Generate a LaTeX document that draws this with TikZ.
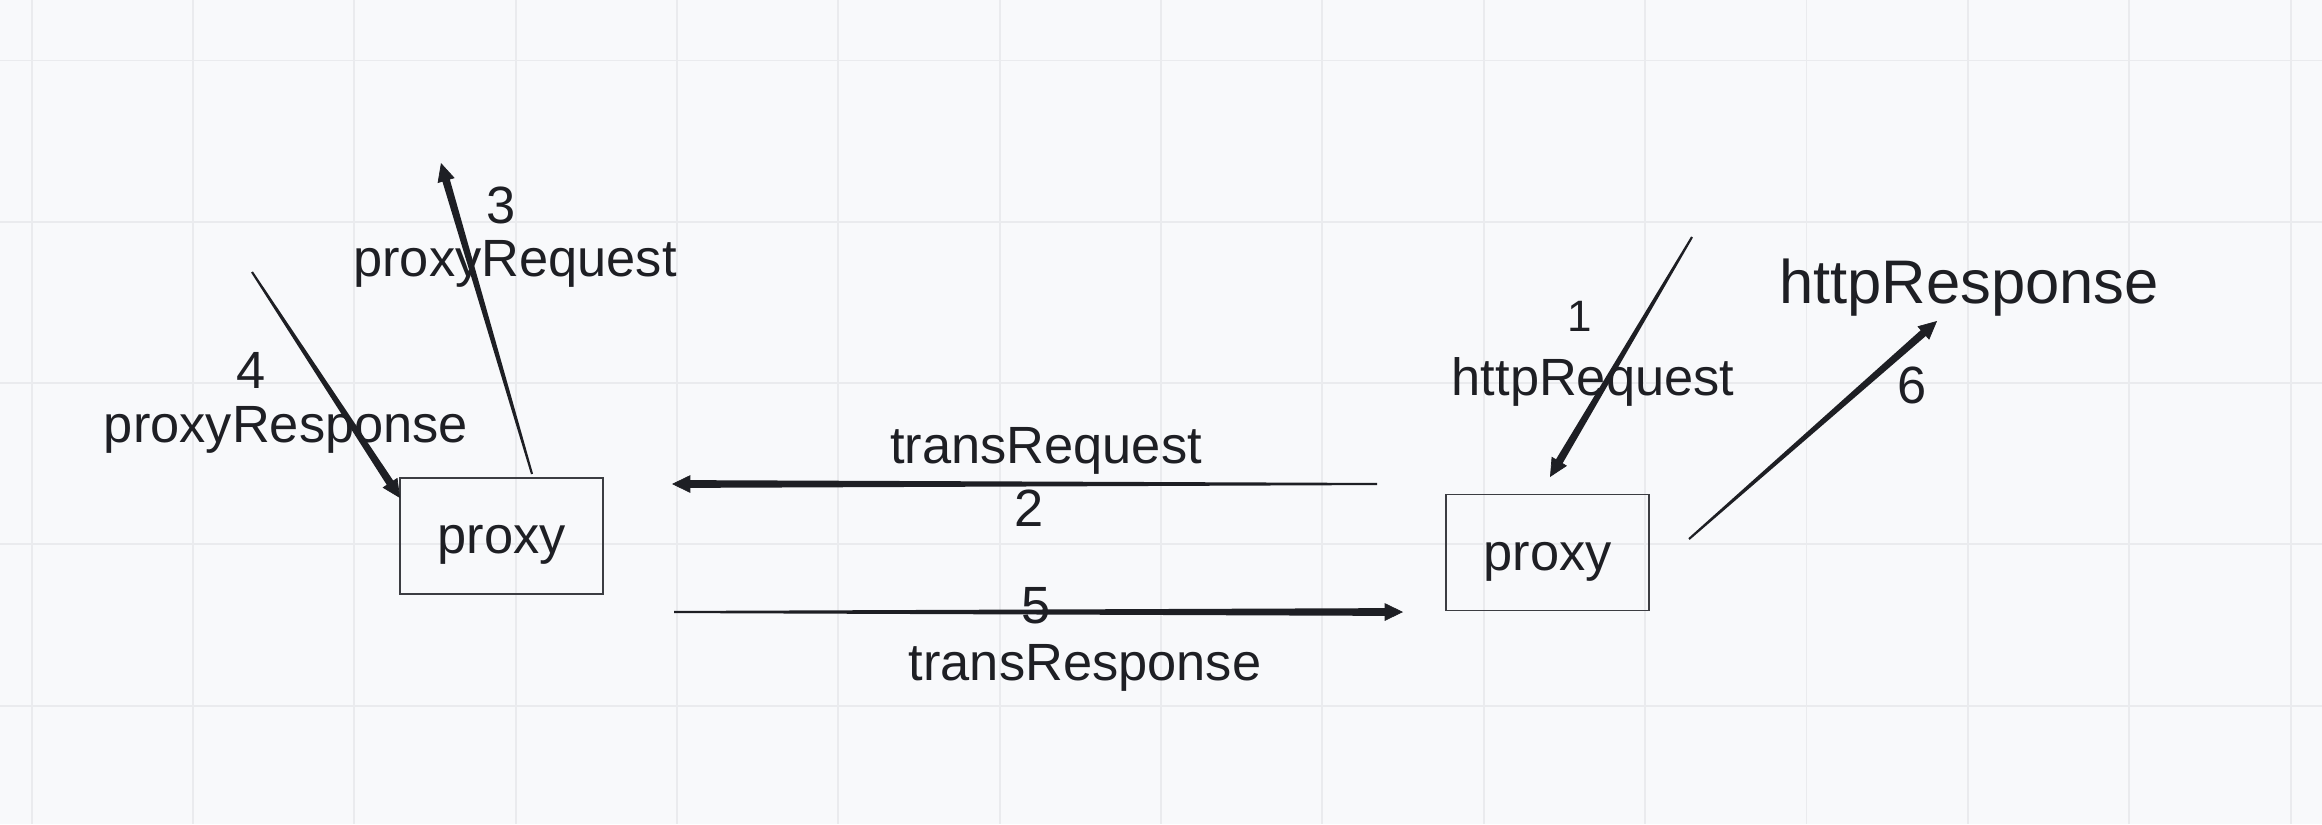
\documentclass[tikz,border=0pt]{standalone}
\usepackage{fontspec}
\setmainfont{Liberation Sans}
\usepackage{tikz}
\usetikzlibrary{calc,arrows.meta}
\definecolor{paper}{HTML}{F8F9FB}
\definecolor{rule}{HTML}{EAEBEE}
\definecolor{ink}{HTML}{1E1F24}
\definecolor{frame}{HTML}{3C3D42}
\tikzset{
	lbl/.style={text=ink, inner sep=0pt, anchor=base, font=\fontsize{14.9}{17}\selectfont},
	big/.style={lbl, font=\fontsize{17.5}{20}\selectfont},
	small/.style={lbl, font=\fontsize{12.5}{15}\selectfont},
	proxybox/.style={draw=frame, line width=0.45pt, minimum width=2.03cm, minimum height=1.16cm, text height=10.2pt, text depth=0pt, text=ink, font=\fontsize{14.9}{17}\selectfont}
}
\def\flow(#1)(#2){%
	\coordinate (fb) at ($(#2)!5pt!(#1)$);
	\fill[ink] ($(#1)!0.3pt!90:(fb)$) -- ($(fb)!1.1pt!-90:(#1)$) -- ($(fb)!1.1pt!90:(#1)$) -- ($(#1)!0.3pt!-90:(fb)$) -- cycle;
	\draw[ink, line width=0.2pt, -{Triangle[length=5.2pt,width=5pt]}] (fb) -- (#2);}

\begin{document}
\begin{tikzpicture}[x=0.01cm, y=-0.01cm]
		%%%%% START %%%%%
		
		\fill[paper] (0, 0) rectangle (2322, 824);
		\useasboundingbox (0, 0) rectangle (2322, 824);
		\foreach \gx in {0,...,14}
			\draw[rule, line width=0.55pt] ({31.6+161.35*\gx}, 0) -- ++(0, 824);
		\foreach \gy in {0,...,4}
			\draw[rule, line width=0.55pt] (0, {60.5+161.3*\gy}) -- ++(2322, 0);
		
		\node[proxybox] (lp) at (501.5, 536) {proxy};
		\node[proxybox] (rp) at (1547.5, 552.5) {proxy};
		
		\coordinate (r1a) at (1692, 237);
		\coordinate (r1b) at (1550, 477);
		\coordinate (r2a) at (1377, 484);
		\coordinate (r2b) at (672, 484);
		\coordinate (r3a) at (532, 474);
		\coordinate (r3b) at (441, 163);
		\coordinate (r4a) at (252, 272);
		\coordinate (r4b) at (400, 498);
		\coordinate (r5a) at (674, 612);
		\coordinate (r5b) at (1403, 612);
		\coordinate (r6a) at (1689, 539);
		\coordinate (r6b) at (1937, 321);
		
		\flow(r1a)(r1b);
		\flow(r2a)(r2b);
		\flow(r3a)(r3b);
		\flow(r4a)(r4b);
		\flow(r5a)(r5b);
		\flow(r6a)(r6b);
		
		\node[small] (n1) at (1580, 331) {1};
		\node[lbl] (httpreq) at (1593, 395) {httpRequest};
		\node[lbl] (transreq) at (1046, 463) {transRequest};
		\node[lbl] (n2) at (1029, 526) {2};
		\node[lbl] (n3) at (501, 223) {3};
		\node[lbl] (proxyreq) at (515, 276) {proxyRequest};
		\node[lbl] (n4) at (251, 388) {4};
		\node[lbl] (proxyresp) at (286, 442) {proxyResponse};
		\node[lbl] (n5) at (1036, 623) {5};
		\node[lbl] (transresp) at (1085, 680) {transResponse};
		\node[lbl] (n6) at (1912, 403) {6};
		\node[big] (httpresp) at (1969, 303) {httpResponse};
		
		%%%%% END %%%%%
	\end{tikzpicture}
\end{document}
